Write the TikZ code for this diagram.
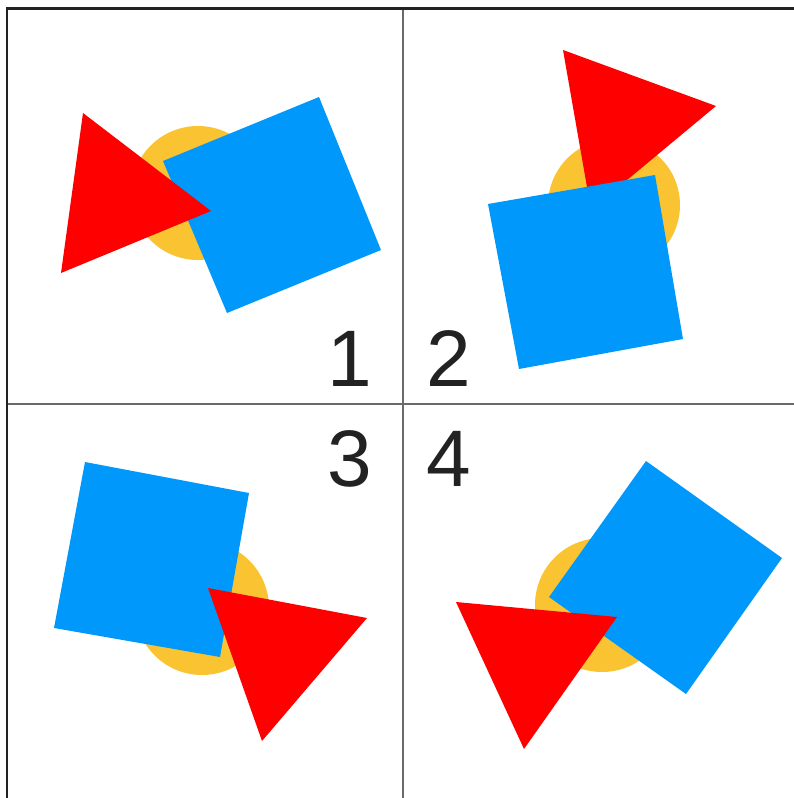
\documentclass[tikz,border=0pt]{standalone}
\usepackage{fontspec}
\setmainfont{Liberation Sans}
\usepackage{xcolor}
\usepackage{tikz}
\usetikzlibrary{positioning, calc}
\definecolor{SunYellow}{HTML}{F9C332}
\definecolor{SkyBlue}{HTML}{0098FA}
\definecolor{PureRed}{HTML}{FF0000}
\definecolor{FrameDark}{HTML}{222222}
\definecolor{FrameGrey}{HTML}{6A6A6A}

\begin{document}
\begin{tikzpicture}[x=0.025cm, y=-0.025cm]
    \tikzstyle{disc} = [fill=SunYellow]
    \tikzstyle{sq} = [fill=SkyBlue]
    \tikzstyle{tri} = [fill=PureRed]
    \tikzstyle{edge} = [draw=FrameDark, line width=1.8pt]
    \tikzstyle{divider} = [draw=FrameGrey, line width=1.3pt]
    \tikzstyle{num} = [inner sep=0pt, text=FrameDark, font=\fontsize{57}{60}\selectfont]

    \useasboundingbox (0,0) rectangle (794,798);

    % panel 1
    \fill [disc] (198,193) circle (67);
    \fill [sq] (163,161) -- (319,97) -- (381,250) -- (227,313) -- cycle;
    \fill [tri] (83,113) -- (211,211) -- (61,273) -- cycle;

    % panel 2
    \fill [disc] (614,205) circle (66);
    \fill [tri] (563,50) -- (716,106) -- (591,210) -- cycle;
    \fill [sq] (488,204) -- (655,175) -- (683,339) -- (519,369) -- cycle;

    % panel 3
    \fill [disc] (202,608) circle (67);
    \fill [sq] (85,462) -- (249,493) -- (220,657) -- (54,628) -- cycle;
    \fill [tri] (208,588) -- (367,618) -- (262,741) -- cycle;

    % panel 4
    \fill [disc] (602,605) circle (67);
    \fill [sq] (646,461) -- (782,558) -- (686,694) -- (549,597) -- cycle;
    \fill [tri] (456,602) -- (617,617) -- (524,749) -- cycle;

    % frame
    \coordinate (topleft) at (7,8.5);
    \coordinate (topright) at (794,8.5);
    \coordinate (botleft) at (7,798);
    \coordinate (midtop) at (403,8.5);
    \coordinate (midbot) at (403,798);
    \coordinate (midleft) at (7,404);
    \coordinate (midright) at (794,404);
    \path [divider] (midtop) -- (midbot);
    \path [divider] (midleft) -- (midright);
    \path [edge] (botleft) -- (topleft) -- (topright);

    \node [num] (one) at (350,359) {1};
    \node [num] (two) at (449,359) {2};
    \node [num] (three) at (350,459) {3};
    \node [num] (four) at (449,459) {4};
\end{tikzpicture}
\end{document}
